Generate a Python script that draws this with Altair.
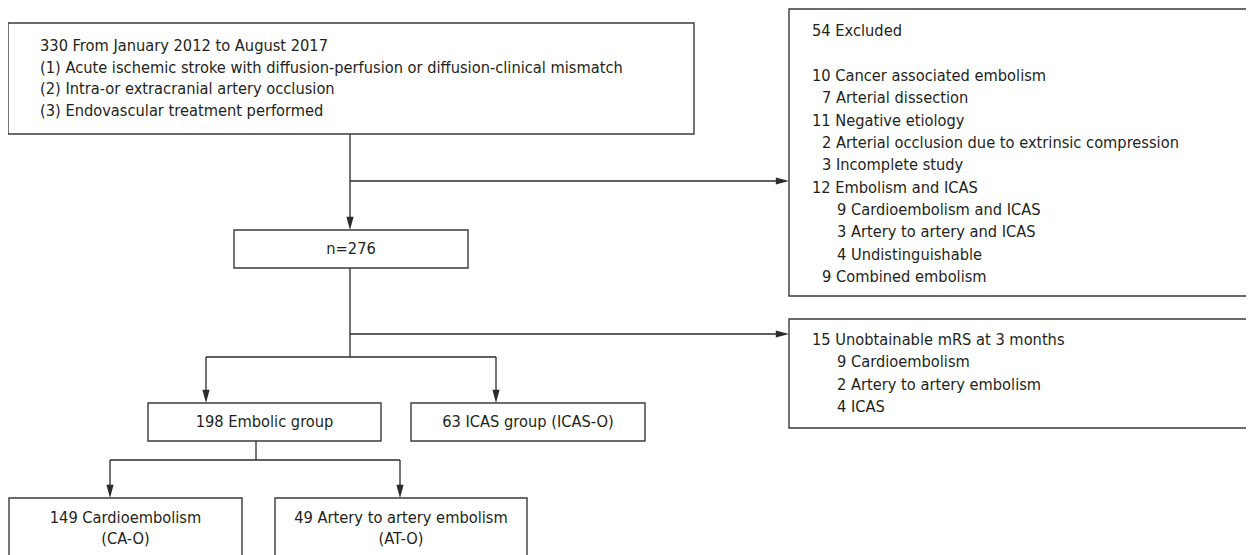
import altair as alt
import pandas as pd

# ---------------- content ----------------
top_lines = [
    "330 From January 2012 to August 2017",
    "(1) Acute ischemic stroke with diffusion-perfusion or diffusion-clinical mismatch",
    "(2) Intra-or extracranial artery occlusion",
    "(3) Endovascular treatment performed",
]
excluded_lines = [
    "54 Excluded",
    "10 Cancer associated embolism",
    "7 Arterial dissection",
    "11 Negative etiology",
    "2 Arterial occlusion due to extrinsic compression",
    "3 Incomplete study",
    "12 Embolism and ICAS",
    "9 Cardioembolism and ICAS",
    "3 Artery to artery and ICAS",
    "4 Undistinguishable",
    "9 Combined embolism",
]
excluded_levels = [0, 0, 1, 0, 1, 1, 0, 2, 2, 2, 1]
mrs_lines = [
    "15 Unobtainable mRS at 3 months",
    "9 Cardioembolism",
    "2 Artery to artery embolism",
    "4 ICAS",
]
mrs_levels = [0, 2, 2, 2]
n_label = ["n=276"]
embolic_label = ["198 Embolic group"]
icas_label = ["63 ICAS group (ICAS-O)"]
ca_lines = ["149 Cardioembolism", "(CA-O)"]
at_lines = ["49 Artery to artery embolism", "(AT-O)"]

# ---------------- layout (page pixels) ----------------
boxes = {
    "top": (8, 23, 694, 134),
    "excl": (789, 9, 1262, 296),
    "n": (234, 230, 468, 268),
    "mrs": (789, 319, 1262, 428),
    "embolic": (148, 403, 381, 441),
    "icas": (411, 403, 645, 441),
    "ca": (9, 498, 242, 580),
    "at": (275, 498, 527, 580),
}
level_x = {0: 812, 1: 822, 2: 837}

rules = [
    (350, 134, 350, 226),
    (350, 181, 785, 181),
    (350, 268, 350, 357),
    (350, 334, 785, 334),
    (206, 357, 496, 357),
    (206, 357, 206, 399),
    (496, 357, 496, 399),
    (256, 441, 256, 460),
    (110, 460, 400, 460),
    (110, 460, 110, 494),
    (400, 460, 400, 494),
]
down_tips = [(350, 230), (206, 403), (496, 403), (110, 498), (400, 498)]
right_tips = [(789, 181), (789, 334)]

left_rows = []
for i, t in enumerate(top_lines):
    left_rows.append({"x": 40, "y": 46 + i * 21.6, "t": t})
excl_y = [31] + [76 + i * 22.35 for i in range(10)]
for t, lv, y in zip(excluded_lines, excluded_levels, excl_y):
    left_rows.append({"x": level_x[lv], "y": y, "t": t})
for i, (t, lv) in enumerate(zip(mrs_lines, mrs_levels)):
    left_rows.append({"x": level_x[lv], "y": 340 + i * 22.4, "t": t})

center_rows = []
def centered(box, lines, y0, step=20.5):
    x1, y1, x2, y2 = boxes[box]
    for i, t in enumerate(lines):
        center_rows.append({"x": (x1 + x2) / 2, "y": y0 + i * step, "t": t})

centered("n", n_label, 249)
centered("embolic", embolic_label, 422)
centered("icas", icas_label, 422)
centered("ca", ca_lines, 518)
centered("at", at_lines, 518)

box_df = pd.DataFrame(
    [{"x": b[0], "y": b[1], "x2": b[2], "y2": b[3]} for b in boxes.values()]
)
rule_df = pd.DataFrame([{"x": r[0], "y": r[1], "x2": r[2], "y2": r[3]} for r in rules])
down_df = pd.DataFrame([{"x": p[0], "y": p[1]} for p in down_tips])
right_df = pd.DataFrame([{"x": p[0], "y": p[1]} for p in right_tips])
left_df = pd.DataFrame(left_rows)
center_df = pd.DataFrame(center_rows)

W, H = 1238, 547
xs = alt.Scale(domain=[8, 8 + W])
ys = alt.Scale(domain=[8, 8 + H], reverse=True)
X = alt.X("x:Q", scale=xs, axis=None)
Y = alt.Y("y:Q", scale=ys, axis=None)

FONT = "DejaVu Sans Condensed"
FS = 16.3
TXT = "#231f20"
LINE = "#2b2b2b"

rects = alt.Chart(box_df).mark_rect(
    fill="white", stroke="#3a3a3a", strokeWidth=1.4, clip=True
).encode(x=X, x2="x2:Q", y=Y, y2="y2:Q")

lines = alt.Chart(rule_df).mark_rule(color=LINE, strokeWidth=1.3).encode(
    x=X, x2="x2:Q", y=Y, y2="y2:Q"
)

down = alt.Chart(down_df).mark_point(
    shape="M-1.2,-4.4L1.2,-4.4L0,0Z", size=36, filled=True, color=LINE, opacity=1, strokeWidth=0
).encode(x=X, y=Y)
right = alt.Chart(right_df).mark_point(
    shape="M-4.4,-1.2L-4.4,1.2L0,0Z", size=36, filled=True, color=LINE, opacity=1, strokeWidth=0
).encode(x=X, y=Y)

ltext = alt.Chart(left_df).mark_text(
    align="left", baseline="middle", font=FONT, fontSize=FS, color=TXT
).encode(x=X, y=Y, text="t:N")
ctext = alt.Chart(center_df).mark_text(
    align="center", baseline="middle", font=FONT, fontSize=FS, color=TXT
).encode(x=X, y=Y, text="t:N")

chart = (
    alt.layer(lines, rects, down, right, ltext, ctext)
    .properties(width=W, height=H, padding=0, background="white",
                autosize=alt.AutoSizeParams(type="none"))
    .configure_view(stroke="transparent", strokeWidth=0)
)

chart.save("out.html", embed_options={"renderer": "svg", "actions": False})
